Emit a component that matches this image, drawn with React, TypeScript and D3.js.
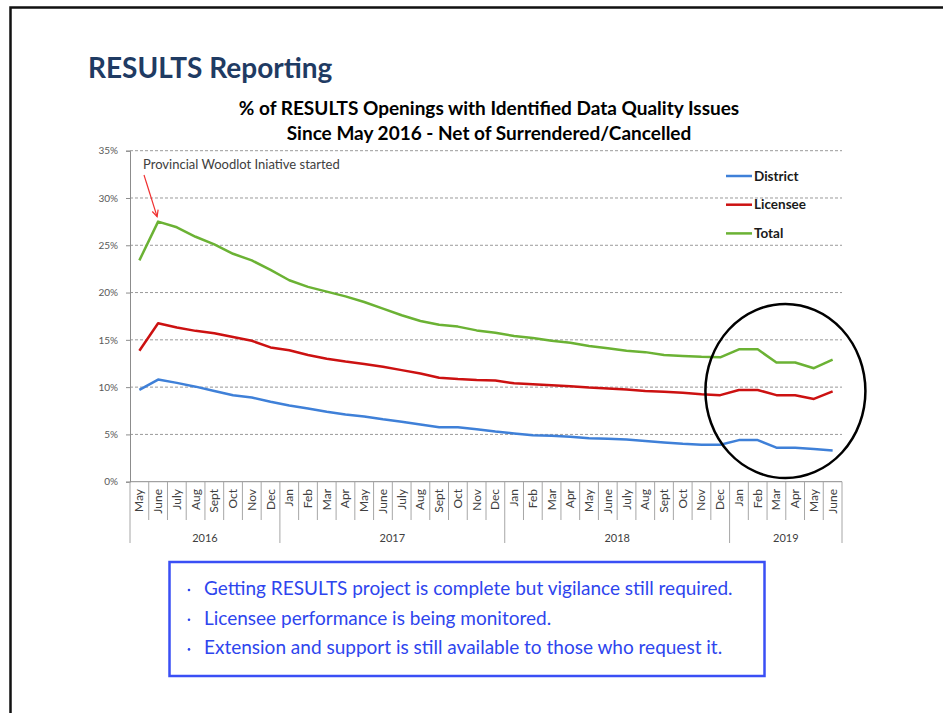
import React, { useEffect, useRef } from 'react'
import * as d3 from 'd3'

const months = ['May', 'June', 'July', 'Aug', 'Sept', 'Oct', 'Nov', 'Dec',
    'Jan', 'Feb', 'Mar', 'Apr', 'May', 'June', 'July', 'Aug', 'Sept', 'Oct', 'Nov', 'Dec',
    'Jan', 'Feb', 'Mar', 'Apr', 'May', 'June', 'July', 'Aug', 'Sept', 'Oct', 'Nov', 'Dec',
    'Jan', 'Feb', 'Mar', 'Apr', 'May', 'June']
const years = ['2016', '2017', '2018', '2019']
const monthsPerYear = [8, 12, 12, 6]

const district = [9.7, 10.8, 10.45, 10.05, 9.6, 9.15, 8.9, 8.45,
    8.05, 7.75, 7.4, 7.1, 6.9, 6.6, 6.35, 6.05, 5.75, 5.75, 5.55, 5.3,
    5.1, 4.9, 4.85, 4.75, 4.6, 4.55, 4.45, 4.3, 4.15, 4.0, 3.9, 3.9,
    4.4, 4.4, 3.6, 3.6, 3.45, 3.3]
const licensee = [13.85, 16.75, 16.3, 15.95, 15.7, 15.3, 14.9, 14.2,
    13.9, 13.4, 13.0, 12.7, 12.45, 12.15, 11.8, 11.45, 11.0, 10.85, 10.75, 10.7,
    10.4, 10.3, 10.2, 10.1, 9.95, 9.85, 9.75, 9.6, 9.5, 9.4, 9.25, 9.15,
    9.7, 9.7, 9.15, 9.15, 8.75, 9.55]
const total = [23.4, 27.5, 26.9, 25.9, 25.1, 24.1, 23.4, 22.4,
    21.3, 20.6, 20.1, 19.6, 19.0, 18.3, 17.6, 17.0, 16.6, 16.4, 16.0, 15.75,
    15.4, 15.2, 14.9, 14.7, 14.35, 14.1, 13.85, 13.7, 13.4, 13.3, 13.2, 13.15,
    14.0, 14.0, 12.6, 12.6, 12.0, 12.9]

const seriesNames = ['District', 'Licensee', 'Total']
const seriesColors = ['#3f80d8', '#cc1111', '#6bb234']
const yTicks = [0, 5, 10, 15, 20, 25, 30, 35]

const bullets = [
    'Getting RESULTS project is complete but vigilance still required.',
    'Licensee performance is being monitored.',
    'Extension and support is still available to those who request it.'
]

const FONT = 'Lato, "Open Sans", sans-serif'

const App = () => {
    const ref = useRef<SVGSVGElement | null>(null)

    useEffect(() => {
        const svg = d3.select(ref.current)
        svg.selectAll('*').remove()

        // slide frame
        svg.append('rect')
            .attr('x', 0).attr('y', 0).attr('width', 943).attr('height', 713)
            .attr('fill', '#fff')
        svg.append('path')
            .attr('d', 'M10.5,713 L10.5,7.5 L943,7.5')
            .attr('fill', 'none')
            .attr('stroke', '#111')
            .attr('stroke-width', 2.5)

        svg.append('text')
            .attr('x', 88)
            .attr('y', 78)
            .attr('font-family', FONT)
            .attr('font-weight', 'bold')
            .attr('font-size', 28)
            .attr('fill', '#1f3b63')
            .text('RESULTS Reporting')

        svg.append('text')
            .attr('x', 489).attr('y', 115)
            .attr('text-anchor', 'middle')
            .attr('font-family', FONT)
            .attr('font-weight', 'bold')
            .attr('font-size', 19)
            .attr('fill', '#000')
            .text('% of RESULTS Openings with Identified Data Quality Issues')
        svg.append('text')
            .attr('x', 489).attr('y', 140)
            .attr('text-anchor', 'middle')
            .attr('font-family', FONT)
            .attr('font-weight', 'bold')
            .attr('font-size', 19)
            .attr('fill', '#000')
            .text('Since May 2016 - Net of Surrendered/Cancelled')

        const left = 130, right = 842, top = 150.7, bottom = 481.7

        const x = d3.scaleBand<number>()
            .domain(d3.range(months.length))
            .range([left, right])
            .paddingInner(0)
            .paddingOuter(0)
        const cx = (i: number) => (x(i) as number) + x.bandwidth() / 2

        const y = d3.scaleLinear()
            .domain([0, 35])
            .range([bottom, top])

        const g = svg.append('g')

        // gridlines
        g.selectAll('line.grid')
            .data(yTicks.filter(t => t > 0))
            .join('line')
            .attr('class', 'grid')
            .attr('x1', left).attr('x2', right)
            .attr('y1', d => y(d)).attr('y2', d => y(d))
            .attr('stroke', '#9a9a9a')
            .attr('stroke-width', 1)
            .attr('stroke-dasharray', '3,2')

        // y axis
        const yAxis = d3.axisLeft(y)
            .tickValues(yTicks)
            .tickSize(4)
            .tickFormat(d => `${d}%`)
        const ya = g.append('g')
            .attr('transform', `translate(${left},0)`)
            .call(yAxis)
        ya.select('.domain').attr('stroke', '#8c8c8c')
        ya.selectAll('.tick line').attr('stroke', '#8c8c8c')
        ya.selectAll('.tick text')
            .attr('font-family', FONT)
            .attr('font-size', 10)
            .attr('fill', '#595959')
            .attr('x', -12)

        // x axis line
        g.append('line')
            .attr('x1', left).attr('x2', right)
            .attr('y1', bottom).attr('y2', bottom)
            .attr('stroke', '#8c8c8c')

        // month dividers
        const yearStarts = monthsPerYear.map((_, k) => d3.sum(monthsPerYear.slice(0, k)))
        g.selectAll('line.mdiv')
            .data(d3.range(months.length + 1))
            .join('line')
            .attr('class', 'mdiv')
            .attr('x1', i => i < months.length ? (x(i) as number) : right)
            .attr('x2', i => i < months.length ? (x(i) as number) : right)
            .attr('y1', bottom)
            .attr('y2', i => (yearStarts.includes(i) || i === months.length) ? 543 : 520)
            .attr('stroke', '#a6a6a6')

        g.selectAll('text.month')
            .data(months)
            .join('text')
            .attr('class', 'month')
            .attr('transform', (_, i) => `translate(${cx(i) + 4},489) rotate(-90)`)
            .attr('text-anchor', 'end')
            .attr('font-family', FONT)
            .attr('font-size', 12)
            .attr('fill', '#404040')
            .text(d => d)

        g.selectAll('text.year')
            .data(years)
            .join('text')
            .attr('class', 'year')
            .attr('x', (_, k) => {
                const s = yearStarts[k], e = s + monthsPerYear[k]
                return ((x(s) as number) + (e < months.length ? (x(e) as number) : right)) / 2
            })
            .attr('y', 542)
            .attr('text-anchor', 'middle')
            .attr('font-family', FONT)
            .attr('font-size', 11)
            .attr('fill', '#404040')
            .text(d => d)

        // series
        const line = d3.line<number>()
            .x((_, i) => cx(i))
            .y(d => y(d))
        const allSeries = [district, licensee, total]
        g.selectAll('path.series')
            .data(allSeries)
            .join('path')
            .attr('class', 'series')
            .attr('d', d => line(d))
            .attr('fill', 'none')
            .attr('stroke', (_, k) => seriesColors[k])
            .attr('stroke-width', 2.5)
            .attr('stroke-linejoin', 'round')

        // legend
        const lg = g.selectAll('g.legend')
            .data(seriesNames)
            .join('g')
            .attr('class', 'legend')
            .attr('transform', (_, k) => `translate(726,${176 + k * 28.7})`)
        lg.append('line')
            .attr('x1', 0).attr('x2', 26)
            .attr('stroke', (_, k) => seriesColors[k])
            .attr('stroke-width', 2.5)
        lg.append('text')
            .attr('x', 28).attr('y', 4.5)
            .attr('font-family', FONT)
            .attr('font-weight', 'bold')
            .attr('font-size', 13.5)
            .attr('fill', '#1a1a1a')
            .text(d => d)

        // annotation
        g.append('text')
            .attr('x', 143).attr('y', 169)
            .attr('font-family', FONT)
            .attr('font-size', 13)
            .attr('fill', '#404040')
            .text('Provincial Woodlot Iniative started')

        const ax0 = 144, ay0 = 175
        const ax1 = cx(1) - 1, ay1 = y(total[1]) - 5
        const ang = Math.atan2(ay1 - ay0, ax1 - ax0)
        g.append('line')
            .attr('x1', ax0).attr('y1', ay0)
            .attr('x2', ax1).attr('y2', ay1)
            .attr('stroke', '#f03030')
            .attr('stroke-width', 1.2)
        const head = 7
        g.append('path')
            .attr('d', `M${ax1 - head * Math.cos(ang - 0.45)},${ay1 - head * Math.sin(ang - 0.45)} L${ax1},${ay1} L${ax1 - head * Math.cos(ang + 0.45)},${ay1 - head * Math.sin(ang + 0.45)}`)
            .attr('fill', 'none')
            .attr('stroke', '#f03030')
            .attr('stroke-width', 1.2)

        // highlight circle round 2019
        g.append('ellipse')
            .attr('cx', (cx(31) + cx(37)) / 2 + 9)
            .attr('cy', 391)
            .attr('rx', 80)
            .attr('ry', 87)
            .attr('fill', 'none')
            .attr('stroke', '#000')
            .attr('stroke-width', 2.5)

        // text box
        svg.append('rect')
            .attr('x', 169.5).attr('y', 562)
            .attr('width', 595).attr('height', 114)
            .attr('fill', '#fff')
            .attr('stroke', '#3a4ff5')
            .attr('stroke-width', 2.5)
        const tb = svg.selectAll('g.bullet')
            .data(bullets)
            .join('g')
            .attr('class', 'bullet')
            .attr('transform', (_, k) => `translate(0,${595 + k * 29.7})`)
        tb.append('circle')
            .attr('cx', 189)
            .attr('cy', -5)
            .attr('r', 1.3)
            .attr('fill', '#2e45ee')
        tb.append('text')
            .attr('x', 204)
            .attr('font-family', FONT)
            .attr('font-size', 19)
            .attr('fill', '#2e45ee')
            .text(d => d)
    }, [])

    return (
        <svg ref={ref} width={943} height={713} viewBox='0 0 943 713'
            style={{ position: 'absolute', left: 0, top: 0 }} />
    )
}

export default App
